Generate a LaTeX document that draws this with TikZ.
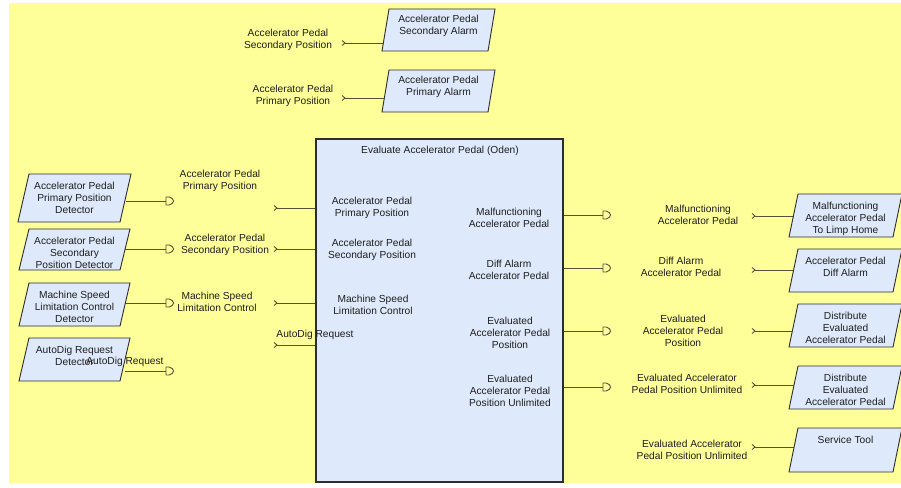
\documentclass[tikz,border=0pt]{standalone}
\usepackage{fontspec}
\setmainfont{Liberation Sans}
\definecolor{bgyellow}{RGB}{255,255,153}
\definecolor{boxblue}{RGB}{222,234,251}
\definecolor{linecol}{RGB}{85,82,55}
\definecolor{edgecol}{RGB}{45,45,45}
\definecolor{txtcol}{RGB}{30,30,30}
\pgfdeclarelayer{back}
\pgfdeclarelayer{wires}
\pgfsetlayers{back,wires,main}
% name, bottom-left x, top y, width, height, skew, text top offset, text
\newcommand\pbox[8]{%
  \path[pshape] (#2+#6,#3) -- (#2+#6+#4,#3) -- (#2+#4,#3+#5) -- (#2,#3+#5) -- cycle;
  \node[anchorbox, anchor=north west, minimum width=#4pt, minimum height=#5pt] (#1) at (#2+#6/2,#3) {};
  \node[lbl, anchor=north] (#1-t) at (#2+#6/2+#4/2,#3+#7) {#8};
}
\begin{document}
\begin{tikzpicture}[x=1pt,y=-1pt,
  conn/.style={draw=linecol,line width=0.9pt},
  lbl/.style={font=\fontsize{10.2}{12}\selectfont, align=center, inner sep=0pt, text=txtcol, yshift=-1.5pt},
  pshape/.style={fill=boxblue,draw=edgecol,line width=0.9pt},
  anchorbox/.style={inner sep=0pt, outer sep=0pt, draw=none},
  mainbox/.style={fill=boxblue,draw=edgecol,line width=1.2pt,inner sep=0pt,outer sep=0pt},
  chev/.pic={\draw[conn] (0,-2.5) -- (3,0) -- (0,2.5);},
  dtip/.pic={\draw[conn] (0,-4) -- (3,-4) .. controls (6,-4) and (7.5,-1) .. (7.5,0) .. controls (7.5,1) and (6,4) .. (3,4) -- (0,4) -- cycle;}
]
\useasboundingbox (0,0) rectangle (901,487);
\begin{pgfonlayer}{back}
  \fill[bgyellow] (9,3) rectangle (901,483);
\end{pgfonlayer}

% ---------- top boxes ----------
\pbox{T1}{382}{9}{106}{42}{7}{4}{Accelerator Pedal\\Secondary Alarm}
\pbox{T2}{382}{70}{106}{42}{7}{4}{Accelerator Pedal\\Primary Alarm}
\node[lbl] (tl1) at (288,38) {Accelerator Pedal\\Secondary Position};
\node[lbl] (tl2) at (293,94) {Accelerator Pedal\\Primary Position};
\coordinate (tc1) at (342,43);
\coordinate (tc2) at (342,98);

% ---------- left boxes ----------
\pbox{L1}{18}{174}{102}{48}{11}{6}{Accelerator Pedal\\Primary Position\\Detector}
\pbox{L2}{19}{229}{101}{41}{10}{6}{Accelerator Pedal\\Secondary\\Position Detector}
\pbox{L3}{19}{283}{101}{43}{10}{6}{Machine Speed\\Limitation Control\\Detector}
\pbox{L4}{19}{338}{101}{43}{10}{6}{AutoDig Request\\Detector}
\node[lbl] (ll1) at (220,179) {Accelerator Pedal\\Primary Position};
\node[lbl] (ll2) at (225,243) {Accelerator Pedal\\Secondary Position};
\node[lbl] (ll3) at (217,300) {Machine Speed\\Limitation Control};
\node[lbl] (ll4) at (125,360) {AutoDig Request};
\coordinate (dL1) at (166,201);
\coordinate (dL2) at (166,249);
\coordinate (dL3) at (166,303);
\coordinate (dL4) at (166,371);

% ---------- main box ----------
\node[mainbox, anchor=north west, minimum width=247pt, minimum height=343pt] (main) at (316,139) {};
\node[lbl] (mainT) at (440,149) {Evaluate Accelerator Pedal (Oden)};
\node[lbl] (mi1) at (372,206) {Accelerator Pedal\\Primary Position};
\node[lbl] (mi2) at (372,248) {Accelerator Pedal\\Secondary Position};
\node[lbl] (mi3) at (373,303) {Machine Speed\\Limitation Control};
\node[lbl] (mo1) at (509,216) {Malfunctioning\\Accelerator Pedal};
\node[lbl] (mo2) at (509,268) {Diff Alarm\\Accelerator Pedal};
\node[lbl] (mo3) at (510,331) {Evaluated\\Accelerator Pedal\\Position};
\node[lbl] (mo4) at (510,389) {Evaluated\\Accelerator Pedal\\Position Unlimited};
\node[lbl] (ml4) at (315,333) {AutoDig Request};
\coordinate (iA) at (274,208);
\coordinate (iB) at (274,249);
\coordinate (iC) at (274,303);
\coordinate (iD) at (274,345);
\coordinate (oA) at (603,215);
\coordinate (oB) at (603,268);
\coordinate (oC) at (603,331);
\coordinate (oD) at (603,387);

% ---------- right boxes ----------
\pbox{R1}{789}{194}{104}{43}{9}{6}{Malfunctioning\\Accelerator Pedal\\To Limp Home}
\pbox{R2}{789}{249}{104}{43}{9}{6}{Accelerator Pedal\\Diff Alarm}
\pbox{R3}{789}{304}{104}{43}{9}{6}{Distribute\\Evaluated\\Accelerator Pedal}
\pbox{R4}{789}{366}{104}{43}{9}{6}{Distribute\\Evaluated\\Accelerator Pedal}
\pbox{R5}{789}{428}{104}{44}{9}{6}{Service Tool}
\node[lbl] (rl1) at (698,213) {Malfunctioning\\Accelerator Pedal};
\node[lbl] (rl2) at (681,265) {Diff Alarm\\Accelerator Pedal};
\node[lbl] (rl3) at (683,329) {Evaluated\\Accelerator Pedal\\Position};
\node[lbl] (rl4) at (687,382) {Evaluated Accelerator\\Pedal Position Unlimited};
\node[lbl] (rl5) at (692,448) {Evaluated Accelerator\\Pedal Position Unlimited};
\coordinate (rc1) at (752,216);
\coordinate (rc2) at (752,270);
\coordinate (rc3) at (752,331);
\coordinate (rc4) at (752,385);
\coordinate (rc5) at (752,447);

% ---------- connectors ----------
\begin{pgfonlayer}{wires}
  \foreach \c/\b in {tc1/T1,tc2/T2,iA/main,iB/main,iC/main,iD/main,rc1/R1,rc2/R2,rc3/R3,rc4/R4,rc5/R5}{
    \pic at (\c) {chev};
    \draw[conn] ([xshift=3pt]\c) -- (\c -| \b.west);
  }
  \foreach \b/\d in {L1/dL1,L2/dL2,L3/dL3,L4/dL4}{
    \draw[conn] (\b.east |- \d) -- (\d);
    \pic at (\d) {dtip};
  }
  \foreach \d in {oA,oB,oC,oD}{
    \draw[conn] (main.east |- \d) -- (\d);
    \pic at (\d) {dtip};
  }
\end{pgfonlayer}
\end{tikzpicture}
\end{document}
